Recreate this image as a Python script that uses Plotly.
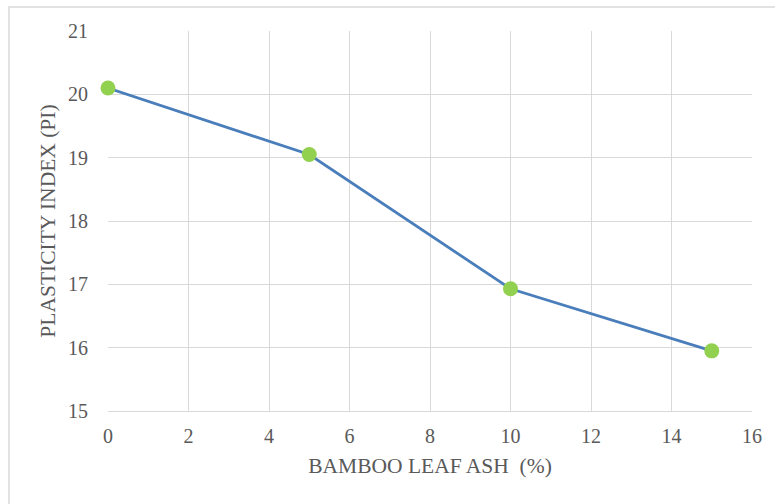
import plotly.graph_objects as go

ash_pct = [0, 5, 10, 15]
plasticity_index = [20.1, 19.05, 16.93, 15.95]

x_ticks = [0, 2, 4, 6, 8, 10, 12, 14, 16]
y_ticks = [15, 16, 17, 18, 19, 20, 21]

font_family = "Liberation Serif, Times New Roman, serif"
tick_color = "#595959"
grid_color = "#d9d9d9"

W, H = 775, 504
L, R, T, B = 108, 23, 31, 93
pw, ph = W - L - R, H - T - B

fig = go.Figure()
fig.add_trace(go.Scatter(
    x=ash_pct, y=plasticity_index, mode="lines+markers",
    line=dict(color="#4a7ebb", width=2.8),
    marker=dict(color="#92d050", size=15),
    cliponaxis=False,
    showlegend=False,
))

fig.update_layout(
    width=W, height=H,
    margin=dict(l=L, r=R, t=T, b=B),
    paper_bgcolor="white", plot_bgcolor="white",
    font=dict(family=font_family, size=20, color=tick_color),
    xaxis=dict(
        range=[0, 16], tickvals=x_ticks, showgrid=True, gridcolor=grid_color, gridwidth=1,
        zeroline=False, showline=True, linecolor=grid_color, linewidth=1,
        ticks="", ticklabelstandoff=7,
        title=dict(text="BAMBOO LEAF ASH\u00a0\u00a0(%)", font=dict(size=21.5, color=tick_color), standoff=11),
    ),
    yaxis=dict(
        range=[15, 21], tickvals=y_ticks, showgrid=True, gridcolor=grid_color, gridwidth=1,
        zeroline=False, showline=False, ticks="", ticklabelstandoff=19,
        title=dict(text="PLASTICITY INDEX (PI)", font=dict(size=21.5, color=tick_color), standoff=6),
    ),
    shapes=[dict(type="rect", xref="paper", yref="paper",
                 x0=(9 - L) / pw, x1=1.2, y0=-0.4, y1=(H - B - 7) / ph,
                 line=dict(color="#d9d9d9", width=1.5), layer="below")],
)

fig.write_html("out.html", config={"displayModeBar": False},
               post_script="document.body.style.margin='0';document.body.style.overflow='hidden';")
